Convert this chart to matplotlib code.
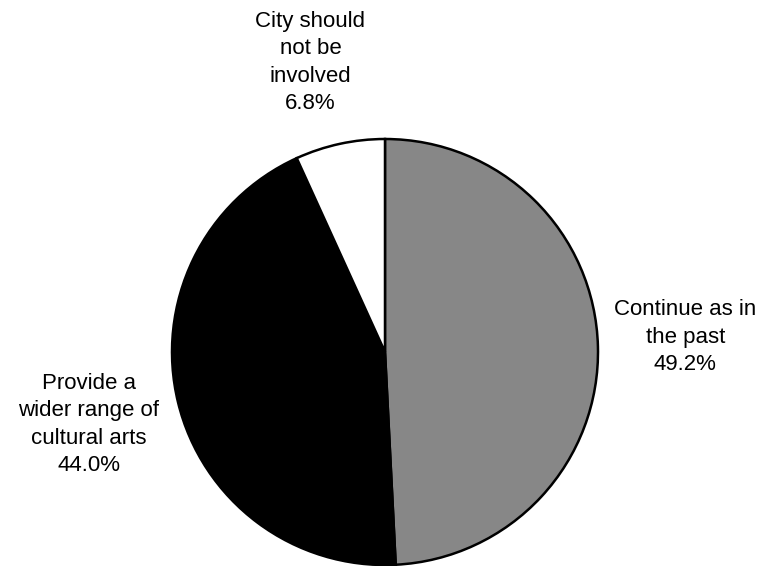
import matplotlib.pyplot as plt

labels = ['Continue as in\nthe past', 'Provide a\nwider range of\ncultural arts',
          'City should\nnot be\ninvolved']
shares = [49.2, 44.0, 6.8]
colors = ['#878787', '#000000', '#ffffff']
label_pos = [(1.41, 0.07), (-1.39, -0.34), (-0.35, 1.36)]

plt.rcParams['font.family'] = ['Liberation Sans', 'DejaVu Sans']

fig = plt.figure(figsize=(7.7, 5.66), dpi=100)
r_px = 213
cx, cy = 385, 566 - 352
ax = fig.add_axes([(cx - r_px) / 770, (cy - r_px) / 566, 2 * r_px / 770, 2 * r_px / 566])
ax.pie(shares, colors=colors, startangle=90, counterclock=False,
       wedgeprops=dict(edgecolor='black', linewidth=1.8))
ax.set_xlim(-1, 1)
ax.set_ylim(-1, 1)
ax.set_aspect('equal')
ax.axis('off')

for lab, val, (x, y) in zip(labels, shares, label_pos):
    ax.text(x, y, f'{lab}\n{val:.1f}%', ha='center', va='center',
            fontsize=16, linespacing=1.4, clip_on=False)

fig.savefig('out.png', dpi=100)
